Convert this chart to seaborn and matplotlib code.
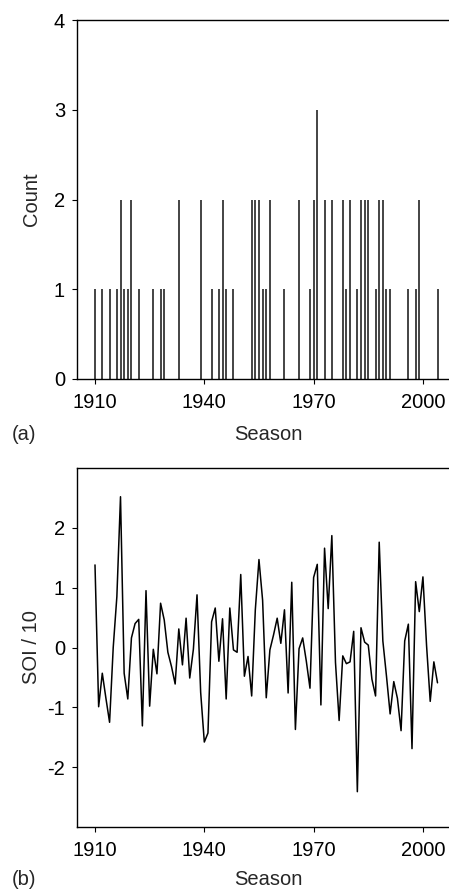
import numpy as np
import pandas as pd
import matplotlib
matplotlib.use('Agg')
import matplotlib.pyplot as plt
import seaborn as sns

# (a) seasons with a count
hit_years = [1910, 1912, 1914, 1916, 1917, 1918, 1919, 1920, 1922, 1926, 1928, 1929,
             1933, 1939, 1942, 1944, 1945, 1946, 1948, 1953, 1954, 1955, 1956, 1957,
             1958, 1962, 1966, 1969, 1970, 1971, 1973, 1975, 1978, 1979, 1980, 1982,
             1983, 1984, 1985, 1987, 1988, 1989, 1990, 1991, 1996, 1998, 1999, 2004]
hit_counts = [1, 1, 1, 1, 2, 1, 1, 2, 1, 1, 1, 1,
              2, 2, 1, 1, 2, 1, 1, 2, 2, 2, 1, 1,
              2, 1, 2, 1, 2, 3, 2, 2, 2, 1, 2, 1,
              2, 2, 2, 1, 2, 2, 1, 1, 1, 1, 2, 1]

# (b) SOI / 10 per season, 1910-2004
soi_years = list(range(1910, 2005))
soi_values = [1.38, -0.99, -0.43, -0.85, -1.25, 0.00, 0.85, 2.52, -0.43, -0.86,
              0.16, 0.40, 0.47, -1.31, 0.95, -0.98, -0.03, -0.44, 0.74, 0.46,
              -0.08, -0.32, -0.61, 0.31, -0.29, 0.49, -0.51, -0.03, 0.88, -0.75,
              -1.58, -1.43, 0.43, 0.66, -0.23, 0.48, -0.86, 0.66, -0.04, -0.08,
              1.22, -0.48, -0.15, -0.81, 0.63, 1.47, 0.79, -0.84, -0.04, 0.21,
              0.49, 0.07, 0.63, -0.76, 1.09, -1.37, -0.02, 0.16, -0.23, -0.68,
              1.17, 1.39, -0.96, 1.66, 0.65, 1.87, -0.25, -1.22, -0.14, -0.27,
              -0.24, 0.27, -2.41, 0.33, 0.09, 0.04, -0.53, -0.81, 1.76, 0.11,
              -0.48, -1.11, -0.57, -0.85, -1.39, 0.11, 0.39, -1.69, 1.10, 0.60,
              1.18, 0.03, -0.90, -0.24, -0.59]

year_ticks = [1910, 1940, 1970, 2000]
FS = 14.5

sns.set_style('ticks')
plt.rcParams['font.family'] = ['Liberation Sans', 'DejaVu Sans']
plt.rcParams['axes.unicode_minus'] = False

W, H = 449, 890
fig = plt.figure(figsize=(W / 100, H / 100), dpi=100)


def add_axes_px(left, top, right, bottom):
    return fig.add_axes([left / W, 1 - bottom / H, (right - left) / W, (bottom - top) / H])


def style_axes(ax):
    for side in ['left', 'top', 'bottom']:
        ax.spines[side].set_linewidth(1.0)
        ax.spines[side].set_color('black')
    ax.spines['right'].set_visible(False)
    ax.tick_params(direction='out', length=3.6, width=0.8,
                   labelsize=FS, colors='black')
    ax.tick_params(axis='x', pad=6.5)
    ax.tick_params(axis='y', pad=5.0)
    ax.set_xticks(year_ticks)
    ax.set_xlim(1905.06, 2009.9)


# Panel (a): counts
ax1 = add_axes_px(77, 20, 459, 379)
ax1.vlines(hit_years, 0, hit_counts, color='#111111', lw=1.1)
ax1.set_ylim(0, 4)
ax1.set_yticks([0, 1, 2, 3, 4])
style_axes(ax1)
ax1.set_xlabel('Season', fontsize=FS, va='baseline')
ax1.xaxis.set_label_coords(0.5, (379 - 440) / 359)
ax1.set_ylabel('Count', fontsize=FS, va='baseline')
ax1.yaxis.set_label_coords((37 - 77) / 382, 0.5)

# Panel (b): SOI
ax2 = add_axes_px(77, 468, 459, 827)
sns.lineplot(x=soi_years, y=soi_values, ax=ax2, color='black', lw=1.1)
ax2.set_ylim(-3, 3)
ax2.set_yticks([-2, -1, 0, 1, 2])
style_axes(ax2)
ax2.set_xlabel('Season', fontsize=FS, va='baseline')
ax2.xaxis.set_label_coords(0.5, (827 - 885) / 359)
ax2.set_ylabel('SOI / 10', fontsize=FS, va='baseline')
ax2.yaxis.set_label_coords((37 - 77) / 382, 0.5)

fig.text(12 / W, 1 - 440 / H, '(a)', fontsize=FS, ha='left', va='baseline')
fig.text(12 / W, 1 - 885 / H, '(b)', fontsize=FS, ha='left', va='baseline')

fig.savefig('out.png', dpi=100)
